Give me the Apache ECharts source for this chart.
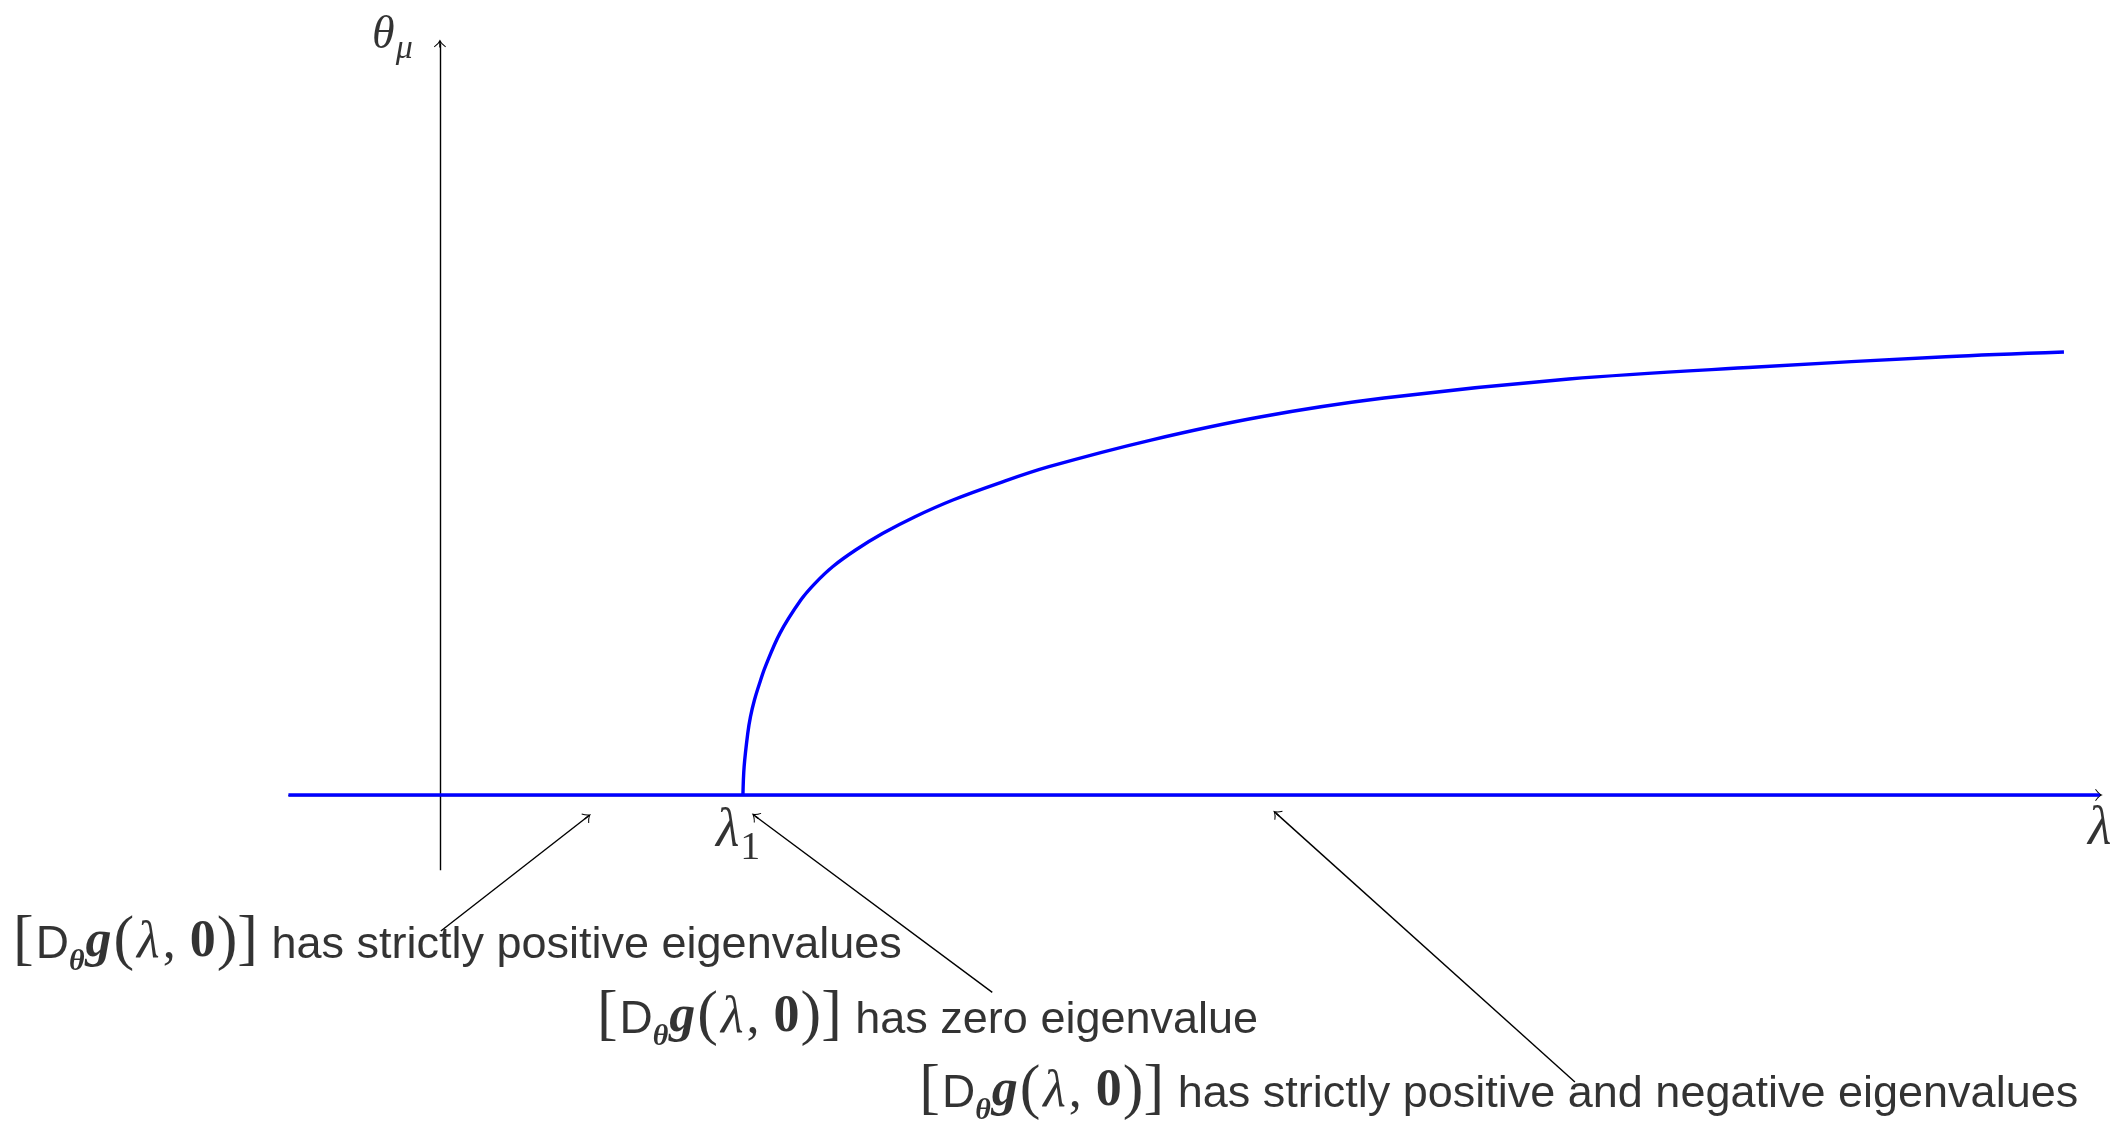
<!DOCTYPE html>
<html>
<head>
<meta charset="utf-8">
<script src="https://cdn.jsdelivr.net/npm/echarts@6/dist/echarts.min.js"></script>
<style>
html,body{margin:0;padding:0;background:#fff;}
#chart{width:2120px;height:1124px;}
</style>
</head>
<body>
<div id="chart"></div>
<script>
// ---------- data (lambda_1 = 1) ----------
// bifurcating branch
const branchLambda = [1.000, 1.004, 1.016, 1.025, 1.038, 1.055, 1.074, 1.122, 1.191, 1.238, 1.296, 1.372, 1.462, 1.568, 1.693, 1.843, 2.010, 2.347, 2.711, 3.116, 3.726, 4.347, 4.970, 5.360];
const branchTheta  = [0.000, 0.339, 0.739, 0.938, 1.138, 1.338, 1.537, 1.936, 2.335, 2.535, 2.734, 2.934, 3.134, 3.333, 3.533, 3.733, 3.932, 4.251, 4.530, 4.754, 4.982, 5.126, 5.249, 5.305];
// trivial branch theta = 0
const trivialLambda = [-0.5, 5.478];
const trivialTheta  = [0, 0];
// axis arrows (from, to)
const lambdaAxis = [[-0.5, 0], [5.475, 0]];
const thetaAxis  = [[0, -0.9], [0, 9.0]];
// annotation arrows: tail -> head
const noteTail = [[0.003, -1.629], [1.823, -2.363], [3.746, -3.437]];
const noteHead = [[0.488, -0.257], [1.040, -0.251], [2.760, -0.220]];
// annotation texts and anchors (top-left of text line)
const noteAnchor = [[-1.409, -1.270], [0.518, -2.168], [1.582, -3.054]];
const noteText = ['has strictly positive eigenvalues', 'has zero eigenvalue', 'has strictly positive and negative eigenvalues'];
// axis / tick labels
const axisLabelAnchor = { theta: [-0.224, 9.617], lambda: [5.439, 0.084], lambda1: [0.911, 0.060] };
// visible frame
const xRange = [-1.452, 5.545];
const yRange = [-3.940, 9.521];

// ---------- chart ----------
const chart = echarts.init(document.getElementById('chart'), null, { renderer: 'canvas' });

const arrowPath = 'path://M6,0 Q7.2,3.6 12,6.9 L11.4,7.7 Q7.3,5 6,2.3 Q4.7,5 0.6,7.7 L0,6.9 Q4.8,3.6 6,0 Z M5.3,1.6 L6.7,1.6 L6.7,8 L5.3,8 Z';

const SERIF = "'Liberation Serif', 'DejaVu Serif', serif";
const SANS = "'Liberation Sans', Arial, sans-serif";
function tok(family, size, pad, weight, style) {
  return {
    fontFamily: family, fontSize: size, lineHeight: size, color: '#000',
    fontWeight: weight || 'normal', fontStyle: style || 'normal',
    verticalAlign: 'top', padding: pad
  };
}
const rich = {
  br: tok(SERIF, 62, [10, 1, 0, 0]),
  dd: tok(SANS, 46, [21, 0, 0, 1]),
  sb: tok(SERIF, 30, [46, 1, 0, 0], 'bold', 'italic'),
  gg: tok(SERIF, 52, [16, 2, 0, 0], 'bold', 'italic'),
  ll: tok(SERIF, 52, [16, 3, 0, 2], 'normal', 'italic'),
  cm: tok(SERIF, 52, [16, 1, 0, 0]),
  zr: tok(SERIF, 52, [16, 1, 0, 0], 'bold'),
  tx: tok(SANS, 45, [22, 0, 0, 0]),
  th: tok(SERIF, 46, [21, 0, 0, 0], 'normal', 'italic'),
  mu: tok(SERIF, 34, [40, 0, 0, 1], 'normal', 'italic'),
  lx: tok(SERIF, 54, [15, 0, 0, 0], 'normal', 'italic'),
  one: tok(SERIF, 40, [39, 0, 0, 1])
};
const mathPrefix = '{br|[}{dd|D}{sb|θ}{gg|g}{br|(}{ll|λ}{cm|, }{zr|0}{br|)]}';

const labelItems = noteText.map((t, i) => ({
  value: noteAnchor[i],
  label: { formatter: mathPrefix + '{tx| ' + t + '}' }
}));
labelItems.push({ value: axisLabelAnchor.theta, label: { formatter: '{th|θ}{mu|μ}' } });
labelItems.push({ value: axisLabelAnchor.lambda, label: { formatter: '{lx|λ}' } });
labelItems.push({ value: axisLabelAnchor.lambda1, label: { formatter: '{lx|λ}{one|1}' } });

const option = {
  backgroundColor: '#ffffff',
  animation: false,
  grid: { left: 0, right: 0, top: 0, bottom: 0, containLabel: false },
  xAxis: { type: 'value', min: xRange[0], max: xRange[1], show: false },
  yAxis: { type: 'value', min: yRange[0], max: yRange[1], show: false },
  series: [
    {
      name: 'lambda axis', type: 'lines', coordinateSystem: 'cartesian2d', clip: false, silent: true,
      data: [{ coords: lambdaAxis }],
      symbol: ['none', arrowPath], symbolSize: [[12, 8], [12, 8]],
      lineStyle: { color: '#000', width: 1.4, opacity: 1, curveness: 0 }
    },
    {
      name: 'trivial branch', type: 'line', silent: true, symbol: 'none', clip: false,
      data: trivialLambda.map((x, i) => [x, trivialTheta[i]]),
      lineStyle: { color: '#0000ff', width: 3.4 }
    },
    {
      name: 'bifurcating branch', type: 'line', silent: true, symbol: 'none', clip: false,
      smooth: 0.35,
      data: branchLambda.map((x, i) => [x, branchTheta[i]]),
      lineStyle: { color: '#0000ff', width: 3.4 }
    },
    {
      name: 'theta axis', type: 'lines', coordinateSystem: 'cartesian2d', clip: false, silent: true,
      data: [{ coords: thetaAxis }],
      symbol: ['none', arrowPath], symbolSize: [[12, 8], [12, 8]],
      lineStyle: { color: '#000', width: 1.4, opacity: 1, curveness: 0 }
    },
    {
      name: 'annotation arrows', type: 'lines', coordinateSystem: 'cartesian2d', clip: false, silent: true,
      data: noteTail.map((t, i) => ({ coords: [t, noteHead[i]] })),
      symbol: ['none', arrowPath], symbolSize: [[12, 8], [12, 8]],
      lineStyle: { color: '#000', width: 1.4, opacity: 1, curveness: 0 }
    },
    {
      name: 'labels', type: 'scatter', silent: true, clip: false,
      symbolSize: 0, itemStyle: { color: 'rgba(0,0,0,0)' },
      data: labelItems,
      label: { show: true, position: [0, 0], align: 'left', verticalAlign: 'top', rich: rich }
    }
  ]
};
chart.setOption(option);
</script>
</body>
</html>
